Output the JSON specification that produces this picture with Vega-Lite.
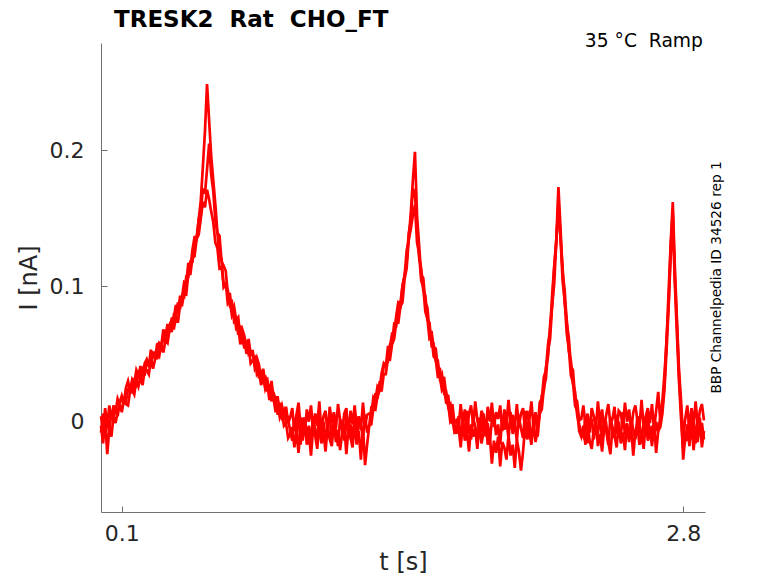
{
  "$schema": "https://vega.github.io/schema/vega-lite/v6.json",
  "width": 604,
  "height": 469,
  "autosize": "none",
  "padding": {"left": 101, "top": 43, "right": 73, "bottom": 71},
  "background": "white",
  "title": {
    "text": "TRESK2 \u00a0Rat \u00a0CHO_FT",
    "anchor": "start",
    "frame": "group",
    "dx": 13,
    "offset": -18,
    "baseline": "alphabetic",
    "font": "DejaVu Sans",
    "fontSize": 23,
    "fontWeight": "bold",
    "color": "#000000"
  },
  "datasets": {
    "a": [
      {"t":0.00,"i":0.004},{"t":0.01,"i":-0.006},{"t":0.02,"i":0.010},{"t":0.03,"i":-0.004},{"t":0.04,"i":0.012},{"t":0.05,"i":0.001},
      {"t":0.06,"i":0.012},{"t":0.07,"i":0.007},{"t":0.08,"i":0.017},{"t":0.09,"i":0.013},{"t":0.10,"i":0.018},{"t":0.11,"i":0.014},{"t":0.12,"i":0.025},{"t":0.13,"i":0.030},{"t":0.14,"i":0.023},{"t":0.15,"i":0.031},
      {"t":0.16,"i":0.028},{"t":0.17,"i":0.038},{"t":0.18,"i":0.034},{"t":0.19,"i":0.041},{"t":0.20,"i":0.033},{"t":0.21,"i":0.043},{"t":0.22,"i":0.046},{"t":0.23,"i":0.041},{"t":0.24,"i":0.053},{"t":0.25,"i":0.048},
      {"t":0.26,"i":0.047},{"t":0.27,"i":0.057},{"t":0.28,"i":0.058},{"t":0.29,"i":0.056},{"t":0.30,"i":0.068},{"t":0.31,"i":0.063},{"t":0.32,"i":0.072},{"t":0.33,"i":0.066},{"t":0.34,"i":0.076},{"t":0.35,"i":0.076},
      {"t":0.36,"i":0.086},{"t":0.37,"i":0.081},{"t":0.38,"i":0.092},{"t":0.39,"i":0.092},{"t":0.40,"i":0.103},{"t":0.41,"i":0.102},{"t":0.42,"i":0.117},{"t":0.43,"i":0.113},{"t":0.44,"i":0.127},{"t":0.45,"i":0.136},
      {"t":0.46,"i":0.136},{"t":0.47,"i":0.149},{"t":0.48,"i":0.163},{"t":0.49,"i":0.188},{"t":0.50,"i":0.214},{"t":0.51,"i":0.249},{"t":0.52,"i":0.222},{"t":0.53,"i":0.196},{"t":0.54,"i":0.178},{"t":0.55,"i":0.160},
      {"t":0.56,"i":0.139},{"t":0.57,"i":0.137},{"t":0.58,"i":0.118},{"t":0.59,"i":0.115},{"t":0.60,"i":0.111},{"t":0.61,"i":0.094},{"t":0.62,"i":0.094},{"t":0.63,"i":0.081},{"t":0.64,"i":0.085},{"t":0.65,"i":0.075},
      {"t":0.66,"i":0.077},{"t":0.67,"i":0.062},{"t":0.68,"i":0.068},{"t":0.69,"i":0.063},{"t":0.70,"i":0.054},{"t":0.71,"i":0.061},{"t":0.72,"i":0.049},{"t":0.73,"i":0.050},{"t":0.74,"i":0.041},{"t":0.75,"i":0.047},
      {"t":0.76,"i":0.042},{"t":0.77,"i":0.031},{"t":0.78,"i":0.039},{"t":0.79,"i":0.029},{"t":0.80,"i":0.031},{"t":0.81,"i":0.021},{"t":0.82,"i":0.030},{"t":0.83,"i":0.017},{"t":0.84,"i":0.018},{"t":0.85,"i":0.018},
      {"t":0.86,"i":0.007},{"t":0.87,"i":0.012},{"t":0.88,"i":0.005},{"t":0.89,"i":0.011},{"t":0.90,"i":-0.001},{"t":0.91,"i":0.003},
      {"t":0.92,"i":0.010},{"t":0.93,"i":-0.007},{"t":0.94,"i":0.005},{"t":0.95,"i":0.014},{"t":0.96,"i":-0.004},{"t":0.97,"i":0.003},{"t":0.98,"i":-0.009},{"t":0.99,"i":0.009},{"t":1.00,"i":0.000},{"t":1.01,"i":0.012},
      {"t":1.02,"i":-0.006},{"t":1.03,"i":0.006},{"t":1.04,"i":-0.003},{"t":1.05,"i":0.015},{"t":1.06,"i":-0.008},{"t":1.07,"i":0.004},{"t":1.08,"i":0.008},{"t":1.09,"i":-0.010},{"t":1.10,"i":0.011},{"t":1.11,"i":-0.001},
      {"t":1.12,"i":0.007},{"t":1.13,"i":-0.005},{"t":1.14,"i":0.013},{"t":1.15,"i":0.001},{"t":1.16,"i":-0.007},{"t":1.17,"i":0.006},{"t":1.18,"i":0.010},{"t":1.19,"i":-0.011},{"t":1.20,"i":0.008},{"t":1.21,"i":-0.002},
      {"t":1.22,"i":0.012},{"t":1.23,"i":-0.004},{"t":1.24,"i":0.004},{"t":1.25,"i":-0.006},{"t":1.26,"i":0.014},{"t":1.27,"i":-0.003},{"t":1.28,"i":0.005},
      {"t":1.29,"i":0.006},{"t":1.30,"i":0.005},{"t":1.31,"i":0.018},{"t":1.32,"i":0.016},{"t":1.33,"i":0.026},{"t":1.34,"i":0.024},{"t":1.35,"i":0.036},{"t":1.36,"i":0.043},{"t":1.37,"i":0.041},{"t":1.38,"i":0.055},
      {"t":1.39,"i":0.055},{"t":1.40,"i":0.065},{"t":1.41,"i":0.065},{"t":1.42,"i":0.078},{"t":1.43,"i":0.088},{"t":1.44,"i":0.087},{"t":1.45,"i":0.100},{"t":1.46,"i":0.107},{"t":1.47,"i":0.126},{"t":1.48,"i":0.134},
      {"t":1.49,"i":0.154},{"t":1.50,"i":0.178},{"t":1.51,"i":0.199},{"t":1.52,"i":0.152},
      {"t":1.53,"i":0.130},{"t":1.54,"i":0.108},{"t":1.55,"i":0.106},{"t":1.56,"i":0.088},{"t":1.57,"i":0.084},{"t":1.58,"i":0.066},{"t":1.59,"i":0.066},{"t":1.60,"i":0.055},{"t":1.61,"i":0.054},{"t":1.62,"i":0.040},
      {"t":1.63,"i":0.039},{"t":1.64,"i":0.028},{"t":1.65,"i":0.033},{"t":1.66,"i":0.020},{"t":1.67,"i":0.019},{"t":1.68,"i":0.006},{"t":1.69,"i":0.013},{"t":1.70,"i":-0.001},{"t":1.71,"i":0.001},
      {"t":1.72,"i":-0.004},{"t":1.73,"i":0.013},{"t":1.74,"i":-0.001},{"t":1.75,"i":0.009},{"t":1.76,"i":-0.008},{"t":1.77,"i":0.006},{"t":1.78,"i":0.012},{"t":1.79,"i":-0.003},{"t":1.80,"i":0.015},{"t":1.81,"i":0.001},
      {"t":1.82,"i":-0.006},{"t":1.83,"i":0.008},{"t":1.84,"i":0.004},{"t":1.85,"i":-0.009},{"t":1.86,"i":0.011},{"t":1.87,"i":0.000},{"t":1.88,"i":0.014},{"t":1.89,"i":-0.004},{"t":1.90,"i":0.007},{"t":1.91,"i":0.002},
      {"t":1.92,"i":0.012},{"t":1.93,"i":-0.007},{"t":1.94,"i":0.009},{"t":1.95,"i":-0.002},{"t":1.96,"i":0.016},{"t":1.97,"i":-0.001},{"t":1.98,"i":0.005},{"t":1.99,"i":-0.005},{"t":2.00,"i":0.013},{"t":2.01,"i":-0.003},
      {"t":2.02,"i":0.006},{"t":2.03,"i":0.010},{"t":2.04,"i":-0.008},{"t":2.05,"i":0.008},{"t":2.06,"i":0.001},{"t":2.07,"i":0.015},{"t":2.08,"i":-0.004},{"t":2.09,"i":0.007},{"t":2.10,"i":-0.006},
      {"t":2.11,"i":0.014},{"t":2.12,"i":0.017},{"t":2.13,"i":0.033},{"t":2.14,"i":0.038},{"t":2.15,"i":0.057},{"t":2.16,"i":0.067},{"t":2.17,"i":0.094},{"t":2.18,"i":0.115},{"t":2.19,"i":0.135},{"t":2.20,"i":0.173},
      {"t":2.21,"i":0.143},{"t":2.22,"i":0.110},{"t":2.23,"i":0.097},{"t":2.24,"i":0.073},{"t":2.25,"i":0.062},{"t":2.26,"i":0.041},{"t":2.27,"i":0.038},{"t":2.28,"i":0.018},{"t":2.29,"i":0.015},{"t":2.30,"i":0.001},{"t":2.31,"i":0.002},
      {"t":2.32,"i":0.012},{"t":2.33,"i":-0.003},{"t":2.34,"i":0.006},{"t":2.35,"i":-0.008},{"t":2.36,"i":0.010},{"t":2.37,"i":0.004},{"t":2.38,"i":-0.005},{"t":2.39,"i":0.015},{"t":2.40,"i":-0.001},{"t":2.41,"i":0.009},
      {"t":2.42,"i":-0.006},{"t":2.43,"i":0.005},{"t":2.44,"i":0.013},{"t":2.45,"i":-0.002},{"t":2.46,"i":0.002},{"t":2.47,"i":0.011},{"t":2.48,"i":-0.009},{"t":2.49,"i":0.008},{"t":2.50,"i":0.006},{"t":2.51,"i":-0.004},
      {"t":2.52,"i":0.014},{"t":2.53,"i":0.000},{"t":2.54,"i":0.009},{"t":2.55,"i":-0.007},{"t":2.56,"i":0.007},{"t":2.57,"i":0.012},{"t":2.58,"i":0.001},{"t":2.59,"i":-0.003},{"t":2.60,"i":0.016},{"t":2.61,"i":-0.005},
      {"t":2.62,"i":0.004},{"t":2.63,"i":0.010},{"t":2.64,"i":-0.001},{"t":2.65,"i":0.013},{"t":2.66,"i":-0.006},{"t":2.67,"i":0.008},{"t":2.68,"i":0.022},{"t":2.69,"i":0.000},
      {"t":2.70,"i":0.015},{"t":2.71,"i":0.035},{"t":2.72,"i":0.059},{"t":2.73,"i":0.096},{"t":2.74,"i":0.131},{"t":2.75,"i":0.162},{"t":2.76,"i":0.114},{"t":2.77,"i":0.075},{"t":2.78,"i":0.038},{"t":2.79,"i":0.015},
      {"t":2.80,"i":-0.012},{"t":2.81,"i":0.002},{"t":2.82,"i":0.012},{"t":2.83,"i":-0.006},{"t":2.84,"i":0.010},{"t":2.85,"i":-0.002},{"t":2.86,"i":0.015},{"t":2.87,"i":-0.004},{"t":2.88,"i":0.008},{"t":2.89,"i":0.013},{"t":2.90,"i":0.001}
    ],
    "b": [
      {"t":0.00,"i":-0.008},{"t":0.01,"i":0.006},{"t":0.02,"i":-0.012},{"t":0.03,"i":0.002},{"t":0.04,"i":-0.006},{"t":0.05,"i":0.008},
      {"t":0.06,"i":0.002},{"t":0.07,"i":0.011},{"t":0.08,"i":0.004},{"t":0.09,"i":0.014},{"t":0.10,"i":0.019},{"t":0.11,"i":0.014},{"t":0.12,"i":0.015},{"t":0.13,"i":0.024},{"t":0.14,"i":0.025},{"t":0.15,"i":0.021},
      {"t":0.16,"i":0.032},{"t":0.17,"i":0.028},{"t":0.18,"i":0.038},{"t":0.19,"i":0.031},{"t":0.20,"i":0.038},{"t":0.21,"i":0.034},{"t":0.22,"i":0.045},{"t":0.23,"i":0.041},{"t":0.24,"i":0.042},{"t":0.25,"i":0.051},
      {"t":0.26,"i":0.051},{"t":0.27,"i":0.046},{"t":0.28,"i":0.057},{"t":0.29,"i":0.054},{"t":0.30,"i":0.064},{"t":0.31,"i":0.058},{"t":0.32,"i":0.066},{"t":0.33,"i":0.071},{"t":0.34,"i":0.066},{"t":0.35,"i":0.078},
      {"t":0.36,"i":0.076},{"t":0.37,"i":0.088},{"t":0.38,"i":0.083},{"t":0.39,"i":0.093},{"t":0.40,"i":0.092},{"t":0.41,"i":0.107},{"t":0.42,"i":0.107},{"t":0.43,"i":0.118},{"t":0.44,"i":0.118},{"t":0.45,"i":0.132},
      {"t":0.46,"i":0.134},{"t":0.47,"i":0.149},{"t":0.48,"i":0.155},{"t":0.49,"i":0.172},{"t":0.50,"i":0.168},{"t":0.51,"i":0.186},{"t":0.52,"i":0.205},{"t":0.53,"i":0.182},{"t":0.54,"i":0.170},{"t":0.55,"i":0.148},
      {"t":0.56,"i":0.139},{"t":0.57,"i":0.122},{"t":0.58,"i":0.120},{"t":0.59,"i":0.099},{"t":0.60,"i":0.101},{"t":0.61,"i":0.097},{"t":0.62,"i":0.086},{"t":0.63,"i":0.088},{"t":0.64,"i":0.074},{"t":0.65,"i":0.076},
      {"t":0.66,"i":0.064},{"t":0.67,"i":0.071},{"t":0.68,"i":0.061},{"t":0.69,"i":0.054},{"t":0.70,"i":0.060},{"t":0.71,"i":0.050},{"t":0.72,"i":0.052},{"t":0.73,"i":0.052},{"t":0.74,"i":0.039},{"t":0.75,"i":0.042},
      {"t":0.76,"i":0.032},{"t":0.77,"i":0.038},{"t":0.78,"i":0.028},{"t":0.79,"i":0.034},{"t":0.80,"i":0.023},{"t":0.81,"i":0.023},{"t":0.82,"i":0.015},{"t":0.83,"i":0.021},{"t":0.84,"i":0.017},{"t":0.85,"i":0.005},
      {"t":0.86,"i":0.014},{"t":0.87,"i":0.004},{"t":0.88,"i":0.008},{"t":0.89,"i":-0.001},{"t":0.90,"i":0.002},{"t":0.91,"i":-0.007},
      {"t":0.92,"i":-0.014},{"t":0.93,"i":0.002},{"t":0.94,"i":-0.008},{"t":0.95,"i":0.006},{"t":0.96,"i":-0.017},{"t":0.97,"i":-0.001},{"t":0.98,"i":0.003},{"t":0.99,"i":-0.011},{"t":1.00,"i":-0.003},{"t":1.01,"i":-0.015},
      {"t":1.02,"i":0.004},{"t":1.03,"i":-0.006},{"t":1.04,"i":-0.012},{"t":1.05,"i":0.007},{"t":1.06,"i":-0.009},{"t":1.07,"i":0.000},{"t":1.08,"i":-0.016},{"t":1.09,"i":-0.002},{"t":1.10,"i":0.005},{"t":1.11,"i":-0.013},
      {"t":1.12,"i":0.001},{"t":1.13,"i":-0.007},{"t":1.14,"i":-0.018},{"t":1.15,"i":0.002},{"t":1.16,"i":-0.004},{"t":1.17,"i":-0.014},{"t":1.18,"i":0.006},{"t":1.19,"i":-0.010},{"t":1.20,"i":-0.002},{"t":1.21,"i":-0.012},
      {"t":1.22,"i":0.004},{"t":1.23,"i":-0.017},{"t":1.24,"i":0.000},{"t":1.25,"i":-0.003},{"t":1.26,"i":-0.011},{"t":1.27,"i":0.005},{"t":1.28,"i":-0.008},
      {"t":1.29,"i":-0.003},{"t":1.30,"i":0.010},{"t":1.31,"i":0.009},{"t":1.32,"i":0.021},{"t":1.33,"i":0.017},{"t":1.34,"i":0.029},{"t":1.35,"i":0.029},{"t":1.36,"i":0.041},{"t":1.37,"i":0.043},{"t":1.38,"i":0.044},
      {"t":1.39,"i":0.057},{"t":1.40,"i":0.058},{"t":1.41,"i":0.072},{"t":1.42,"i":0.071},{"t":1.43,"i":0.083},{"t":1.44,"i":0.084},{"t":1.45,"i":0.100},{"t":1.46,"i":0.108},{"t":1.47,"i":0.117},{"t":1.48,"i":0.139},
      {"t":1.49,"i":0.148},{"t":1.50,"i":0.172},{"t":1.51,"i":0.168},{"t":1.52,"i":0.143},
      {"t":1.53,"i":0.121},{"t":1.54,"i":0.113},{"t":1.55,"i":0.097},{"t":1.56,"i":0.093},{"t":1.57,"i":0.075},{"t":1.58,"i":0.073},{"t":1.59,"i":0.056},{"t":1.60,"i":0.057},{"t":1.61,"i":0.045},{"t":1.62,"i":0.045},
      {"t":1.63,"i":0.032},{"t":1.64,"i":0.035},{"t":1.65,"i":0.021},{"t":1.66,"i":0.022},{"t":1.67,"i":0.011},{"t":1.68,"i":0.013},{"t":1.69,"i":-0.001},{"t":1.70,"i":-0.002},{"t":1.71,"i":-0.009},
      {"t":1.72,"i":0.004},{"t":1.73,"i":-0.014},{"t":1.74,"i":0.000},{"t":1.75,"i":-0.010},{"t":1.76,"i":0.008},{"t":1.77,"i":-0.007},{"t":1.78,"i":-0.013},{"t":1.79,"i":0.002},{"t":1.80,"i":-0.003},{"t":1.81,"i":-0.016},
      {"t":1.82,"i":0.003},{"t":1.83,"i":-0.008},{"t":1.84,"i":0.006},{"t":1.85,"i":-0.011},{"t":1.86,"i":-0.001},{"t":1.87,"i":-0.015},{"t":1.88,"i":0.001},{"t":1.89,"i":0.005},{"t":1.90,"i":-0.010},{"t":1.91,"i":-0.002},
      {"t":1.92,"i":-0.017},{"t":1.93,"i":0.004},{"t":1.94,"i":-0.006},{"t":1.95,"i":0.002},{"t":1.96,"i":-0.013},{"t":1.97,"i":0.007},{"t":1.98,"i":-0.009},{"t":1.99,"i":-0.001},{"t":2.00,"i":-0.014},{"t":2.01,"i":0.003},
      {"t":2.02,"i":-0.005},{"t":2.03,"i":-0.012},{"t":2.04,"i":0.008},{"t":2.05,"i":-0.008},{"t":2.06,"i":0.001},{"t":2.07,"i":-0.015},{"t":2.08,"i":-0.002},{"t":2.09,"i":0.005},{"t":2.10,"i":-0.011},
      {"t":2.11,"i":0.006},{"t":2.12,"i":0.019},{"t":2.13,"i":0.023},{"t":2.14,"i":0.040},{"t":2.15,"i":0.048},{"t":2.16,"i":0.071},{"t":2.17,"i":0.086},{"t":2.18,"i":0.114},{"t":2.19,"i":0.132},{"t":2.20,"i":0.163},
      {"t":2.21,"i":0.135},{"t":2.22,"i":0.114},{"t":2.23,"i":0.088},{"t":2.24,"i":0.075},{"t":2.25,"i":0.052},{"t":2.26,"i":0.045},{"t":2.27,"i":0.028},{"t":2.28,"i":0.022},{"t":2.29,"i":0.005},{"t":2.30,"i":-0.002},{"t":2.31,"i":-0.008},
      {"t":2.32,"i":-0.011},{"t":2.33,"i":0.004},{"t":2.34,"i":-0.016},{"t":2.35,"i":-0.002},{"t":2.36,"i":0.002},{"t":2.37,"i":-0.013},{"t":2.38,"i":-0.003},{"t":2.39,"i":-0.009},{"t":2.40,"i":0.006},{"t":2.41,"i":-0.014},
      {"t":2.42,"i":0.000},{"t":2.43,"i":-0.007},{"t":2.44,"i":-0.017},{"t":2.45,"i":0.003},{"t":2.46,"i":-0.004},{"t":2.47,"i":-0.012},{"t":2.48,"i":0.005},{"t":2.49,"i":-0.008},{"t":2.50,"i":-0.011},{"t":2.51,"i":0.007},
      {"t":2.52,"i":-0.010},{"t":2.53,"i":-0.001},{"t":2.54,"i":-0.015},{"t":2.55,"i":0.002},{"t":2.56,"i":-0.006},{"t":2.57,"i":-0.013},{"t":2.58,"i":0.004},{"t":2.59,"i":-0.002},{"t":2.60,"i":-0.016},{"t":2.61,"i":0.001},
      {"t":2.62,"i":-0.009},{"t":2.63,"i":0.005},{"t":2.64,"i":-0.012},{"t":2.65,"i":-0.003},{"t":2.66,"i":-0.014},{"t":2.67,"i":0.000},{"t":2.68,"i":-0.007},{"t":2.69,"i":0.003},
      {"t":2.70,"i":0.010},{"t":2.71,"i":0.027},{"t":2.72,"i":0.061},{"t":2.73,"i":0.086},{"t":2.74,"i":0.130},{"t":2.75,"i":0.155},{"t":2.76,"i":0.106},{"t":2.77,"i":0.072},{"t":2.78,"i":0.034},{"t":2.79,"i":0.008},
      {"t":2.80,"i":-0.028},{"t":2.81,"i":-0.010},{"t":2.82,"i":-0.014},{"t":2.83,"i":0.005},{"t":2.84,"i":-0.011},{"t":2.85,"i":0.002},{"t":2.86,"i":-0.016},{"t":2.87,"i":0.004},{"t":2.88,"i":-0.009},{"t":2.89,"i":-0.001},{"t":2.90,"i":-0.013}
    ],
    "c": [
      {"t":0.00,"i":-0.003},{"t":0.01,"i":-0.016},{"t":0.02,"i":0.002},{"t":0.03,"i":-0.024},{"t":0.04,"i":-0.005},{"t":0.05,"i":-0.011},
      {"t":0.06,"i":0.004},{"t":0.07,"i":-0.001},{"t":0.08,"i":0.007},{"t":0.09,"i":0.013},{"t":0.10,"i":0.007},{"t":0.11,"i":0.016},{"t":0.12,"i":0.013},{"t":0.13,"i":0.012},{"t":0.14,"i":0.023},{"t":0.15,"i":0.023},
      {"t":0.16,"i":0.020},{"t":0.17,"i":0.031},{"t":0.18,"i":0.026},{"t":0.19,"i":0.033},{"t":0.20,"i":0.027},{"t":0.21,"i":0.038},{"t":0.22,"i":0.038},{"t":0.23,"i":0.035},{"t":0.24,"i":0.046},{"t":0.25,"i":0.039},
      {"t":0.26,"i":0.046},{"t":0.27,"i":0.050},{"t":0.28,"i":0.048},{"t":0.29,"i":0.057},{"t":0.30,"i":0.051},{"t":0.31,"i":0.060},{"t":0.32,"i":0.058},{"t":0.33,"i":0.068},{"t":0.34,"i":0.073},{"t":0.35,"i":0.068},
      {"t":0.36,"i":0.077},{"t":0.37,"i":0.073},{"t":0.38,"i":0.086},{"t":0.39,"i":0.086},{"t":0.40,"i":0.095},{"t":0.41,"i":0.094},{"t":0.42,"i":0.109},{"t":0.43,"i":0.109},{"t":0.44,"i":0.121},{"t":0.45,"i":0.122},
      {"t":0.46,"i":0.135},{"t":0.47,"i":0.138},{"t":0.48,"i":0.150},{"t":0.49,"i":0.162},{"t":0.50,"i":0.158},{"t":0.51,"i":0.171},{"t":0.52,"i":0.164},{"t":0.53,"i":0.155},{"t":0.54,"i":0.147},{"t":0.55,"i":0.132},
      {"t":0.56,"i":0.128},{"t":0.57,"i":0.113},{"t":0.58,"i":0.114},{"t":0.59,"i":0.101},{"t":0.60,"i":0.102},{"t":0.61,"i":0.087},{"t":0.62,"i":0.089},{"t":0.63,"i":0.078},{"t":0.64,"i":0.081},{"t":0.65,"i":0.069},
      {"t":0.66,"i":0.071},{"t":0.67,"i":0.057},{"t":0.68,"i":0.062},{"t":0.69,"i":0.060},{"t":0.70,"i":0.050},{"t":0.71,"i":0.055},{"t":0.72,"i":0.043},{"t":0.73,"i":0.045},{"t":0.74,"i":0.047},{"t":0.75,"i":0.035},
      {"t":0.76,"i":0.037},{"t":0.77,"i":0.027},{"t":0.78,"i":0.033},{"t":0.79,"i":0.024},{"t":0.80,"i":0.028},{"t":0.81,"i":0.016},{"t":0.82,"i":0.021},{"t":0.83,"i":0.017},{"t":0.84,"i":0.007},{"t":0.85,"i":0.013},
      {"t":0.86,"i":0.003},{"t":0.87,"i":0.007},{"t":0.88,"i":-0.003},{"t":0.89,"i":-0.001},{"t":0.90,"i":-0.012},{"t":0.91,"i":-0.009},
      {"t":0.92,"i":-0.004},{"t":0.93,"i":-0.019},{"t":0.94,"i":-0.007},{"t":0.95,"i":-0.023},{"t":0.96,"i":-0.002},{"t":0.97,"i":-0.014},{"t":0.98,"i":0.000},{"t":0.99,"i":-0.017},{"t":1.00,"i":-0.009},{"t":1.01,"i":-0.025},
      {"t":1.02,"i":-0.005},{"t":1.03,"i":-0.010},{"t":1.04,"i":-0.020},{"t":1.05,"i":-0.001},{"t":1.06,"i":-0.016},{"t":1.07,"i":-0.008},{"t":1.08,"i":-0.022},{"t":1.09,"i":-0.003},{"t":1.10,"i":-0.013},{"t":1.11,"i":-0.018},
      {"t":1.12,"i":0.001},{"t":1.13,"i":-0.015},{"t":1.14,"i":-0.006},{"t":1.15,"i":-0.021},{"t":1.16,"i":-0.008},{"t":1.17,"i":-0.002},{"t":1.18,"i":-0.024},{"t":1.19,"i":-0.005},{"t":1.20,"i":-0.012},{"t":1.21,"i":-0.019},
      {"t":1.22,"i":-0.001},{"t":1.23,"i":-0.016},{"t":1.24,"i":-0.007},{"t":1.25,"i":-0.028},{"t":1.26,"i":-0.004},{"t":1.27,"i":-0.032},{"t":1.28,"i":-0.017},
      {"t":1.29,"i":-0.003},{"t":1.30,"i":-0.002},{"t":1.31,"i":0.010},{"t":1.32,"i":0.009},{"t":1.33,"i":0.019},{"t":1.34,"i":0.023},{"t":1.35,"i":0.023},{"t":1.36,"i":0.035},{"t":1.37,"i":0.035},{"t":1.38,"i":0.047},
      {"t":1.39,"i":0.046},{"t":1.40,"i":0.057},{"t":1.41,"i":0.061},{"t":1.42,"i":0.073},{"t":1.43,"i":0.073},{"t":1.44,"i":0.085},{"t":1.45,"i":0.088},{"t":1.46,"i":0.105},{"t":1.47,"i":0.113},{"t":1.48,"i":0.134},
      {"t":1.49,"i":0.142},{"t":1.50,"i":0.152},{"t":1.51,"i":0.160},{"t":1.52,"i":0.132},
      {"t":1.53,"i":0.124},{"t":1.54,"i":0.104},{"t":1.55,"i":0.099},{"t":1.56,"i":0.081},{"t":1.57,"i":0.076},{"t":1.58,"i":0.061},{"t":1.59,"i":0.062},{"t":1.60,"i":0.048},{"t":1.61,"i":0.046},{"t":1.62,"i":0.033},
      {"t":1.63,"i":0.033},{"t":1.64,"i":0.023},{"t":1.65,"i":0.025},{"t":1.66,"i":0.014},{"t":1.67,"i":0.013},{"t":1.68,"i":0.000},{"t":1.69,"i":0.002},{"t":1.70,"i":-0.008},{"t":1.71,"i":-0.007},
      {"t":1.72,"i":-0.004},{"t":1.73,"i":-0.019},{"t":1.74,"i":0.001},{"t":1.75,"i":-0.014},{"t":1.76,"i":-0.007},{"t":1.77,"i":-0.022},{"t":1.78,"i":-0.002},{"t":1.79,"i":-0.011},{"t":1.80,"i":-0.005},{"t":1.81,"i":-0.020},
      {"t":1.82,"i":-0.001},{"t":1.83,"i":-0.016},{"t":1.84,"i":-0.008},{"t":1.85,"i":0.002},{"t":1.86,"i":-0.017},{"t":1.87,"i":-0.010},{"t":1.88,"i":-0.031},{"t":1.89,"i":-0.014},{"t":1.90,"i":-0.023},{"t":1.91,"i":-0.011},
      {"t":1.92,"i":-0.033},{"t":1.93,"i":-0.015},{"t":1.94,"i":-0.019},{"t":1.95,"i":-0.028},{"t":1.96,"i":-0.010},{"t":1.97,"i":-0.025},{"t":1.98,"i":-0.017},{"t":1.99,"i":-0.034},{"t":2.00,"i":-0.013},{"t":2.01,"i":-0.022},
      {"t":2.02,"i":-0.036},{"t":2.03,"i":-0.022},{"t":2.04,"i":-0.003},{"t":2.05,"i":-0.013},{"t":2.06,"i":-0.007},{"t":2.07,"i":-0.017},{"t":2.08,"i":0.001},{"t":2.09,"i":-0.015},{"t":2.10,"i":-0.005},
      {"t":2.11,"i":0.006},{"t":2.12,"i":0.009},{"t":2.13,"i":0.025},{"t":2.14,"i":0.032},{"t":2.15,"i":0.052},{"t":2.16,"i":0.061},{"t":2.17,"i":0.086},{"t":2.18,"i":0.102},{"t":2.19,"i":0.134},{"t":2.20,"i":0.158},
      {"t":2.21,"i":0.137},{"t":2.22,"i":0.104},{"t":2.23,"i":0.090},{"t":2.24,"i":0.065},{"t":2.25,"i":0.054},{"t":2.26,"i":0.034},{"t":2.27,"i":0.029},{"t":2.28,"i":0.012},{"t":2.29,"i":0.008},{"t":2.30,"i":-0.007},{"t":2.31,"i":-0.011},
      {"t":2.32,"i":-0.003},{"t":2.33,"i":-0.017},{"t":2.34,"i":-0.001},{"t":2.35,"i":-0.014},{"t":2.36,"i":-0.020},{"t":2.37,"i":-0.006},{"t":2.38,"i":0.001},{"t":2.39,"i":-0.018},{"t":2.40,"i":-0.009},{"t":2.41,"i":-0.022},
      {"t":2.42,"i":-0.005},{"t":2.43,"i":-0.002},{"t":2.44,"i":-0.015},{"t":2.45,"i":-0.024},{"t":2.46,"i":-0.004},{"t":2.47,"i":-0.010},{"t":2.48,"i":-0.019},{"t":2.49,"i":0.000},{"t":2.50,"i":-0.016},{"t":2.51,"i":-0.008},
      {"t":2.52,"i":-0.021},{"t":2.53,"i":-0.002},{"t":2.54,"i":-0.013},{"t":2.55,"i":-0.005},{"t":2.56,"i":-0.025},{"t":2.57,"i":-0.007},{"t":2.58,"i":-0.003},{"t":2.59,"i":-0.017},{"t":2.60,"i":-0.009},{"t":2.61,"i":-0.020},
      {"t":2.62,"i":0.001},{"t":2.63,"i":-0.014},{"t":2.64,"i":-0.006},{"t":2.65,"i":-0.018},{"t":2.66,"i":-0.001},{"t":2.67,"i":-0.023},{"t":2.68,"i":-0.007},{"t":2.69,"i":-0.004},
      {"t":2.70,"i":0.006},{"t":2.71,"i":0.024},{"t":2.72,"i":0.052},{"t":2.73,"i":0.085},{"t":2.74,"i":0.122},{"t":2.75,"i":0.150},{"t":2.76,"i":0.102},{"t":2.77,"i":0.064},{"t":2.78,"i":0.030},{"t":2.79,"i":0.002},
      {"t":2.80,"i":-0.020},{"t":2.81,"i":-0.014},{"t":2.82,"i":-0.002},{"t":2.83,"i":-0.018},{"t":2.84,"i":0.001},{"t":2.85,"i":-0.021},{"t":2.86,"i":-0.006},{"t":2.87,"i":-0.015},{"t":2.88,"i":0.003},{"t":2.89,"i":-0.019},{"t":2.90,"i":-0.007}
    ],
    "notes": [
      {"note": "35 °C \u00a0Ramp", "pos": "top"},
      {"note": "BBP Channelpedia ID 34526 rep 1", "pos": "side"}
    ]
  },
  "layer": [
    {
      "data": {"name": "a"},
      "mark": {"type": "line", "color": "#ff0000", "strokeWidth": 2.7},
      "encoding": {
        "x": {
          "field": "t",
          "type": "quantitative",
          "title": "t [s]",
          "scale": {"domain": [0, 2.905], "nice": false, "zero": false},
          "axis": {"values": [0.1, 2.8], "format": ".1f", "labelFlush": false}
        },
        "y": {
          "field": "i",
          "type": "quantitative",
          "title": "I [nA]",
          "scale": {"domain": [-0.0666, 0.2792], "nice": false, "zero": false},
          "axis": {"values": [0, 0.1, 0.2], "format": "~g"}
        }
      }
    },
    {
      "data": {"name": "b"},
      "mark": {"type": "line", "color": "#ff0000", "strokeWidth": 2.7},
      "encoding": {
        "x": {"field": "t", "type": "quantitative", "scale": {"domain": [0, 2.905], "nice": false, "zero": false}},
        "y": {"field": "i", "type": "quantitative", "scale": {"domain": [-0.0666, 0.2792], "nice": false, "zero": false}}
      }
    },
    {
      "data": {"name": "c"},
      "mark": {"type": "line", "color": "#ff0000", "strokeWidth": 2.7},
      "encoding": {
        "x": {"field": "t", "type": "quantitative", "scale": {"domain": [0, 2.905], "nice": false, "zero": false}},
        "y": {"field": "i", "type": "quantitative", "scale": {"domain": [-0.0666, 0.2792], "nice": false, "zero": false}}
      }
    },
    {
      "data": {"name": "notes"},
      "transform": [{"filter": "datum.pos == 'top'"}],
      "mark": {"type": "text", "align": "right", "baseline": "middle", "dy": -2, "fontSize": 18.7, "font": "DejaVu Sans", "color": "#000000"},
      "encoding": {
        "x": {"datum": 2.895, "type": "quantitative", "scale": {"domain": [0, 2.905], "nice": false, "zero": false}},
        "y": {"datum": 0.2792, "type": "quantitative", "scale": {"domain": [-0.0666, 0.2792], "nice": false, "zero": false}},
        "text": {"field": "note", "type": "nominal"}
      }
    },
    {
      "data": {"name": "notes"},
      "transform": [{"filter": "datum.pos == 'side'"}],
      "mark": {"type": "text", "align": "center", "baseline": "middle", "angle": 270, "fontSize": 13.7, "font": "DejaVu Sans", "color": "#000000"},
      "encoding": {
        "x": {"datum": 2.962, "type": "quantitative", "scale": {"domain": [0, 2.905], "nice": false, "zero": false}},
        "y": {"datum": 0.1063, "type": "quantitative", "scale": {"domain": [-0.0666, 0.2792], "nice": false, "zero": false}},
        "text": {"field": "note", "type": "nominal"}
      }
    }
  ],
  "config": {
    "view": {"stroke": null},
    "axis": {
      "grid": false,
      "tickSize": -6,
      "domainColor": "#707070",
      "tickColor": "#707070",
      "labelColor": "#262626",
      "titleColor": "#262626",
      "labelFont": "DejaVu Sans",
      "titleFont": "DejaVu Sans",
      "labelFontSize": 22,
      "titleFontSize": 24,
      "titleFontWeight": "normal"
    },
    "axisX": {"labelPadding": 17, "titlePadding": 6},
    "axisY": {"labelPadding": 23, "titlePadding": 8}
  }
}
